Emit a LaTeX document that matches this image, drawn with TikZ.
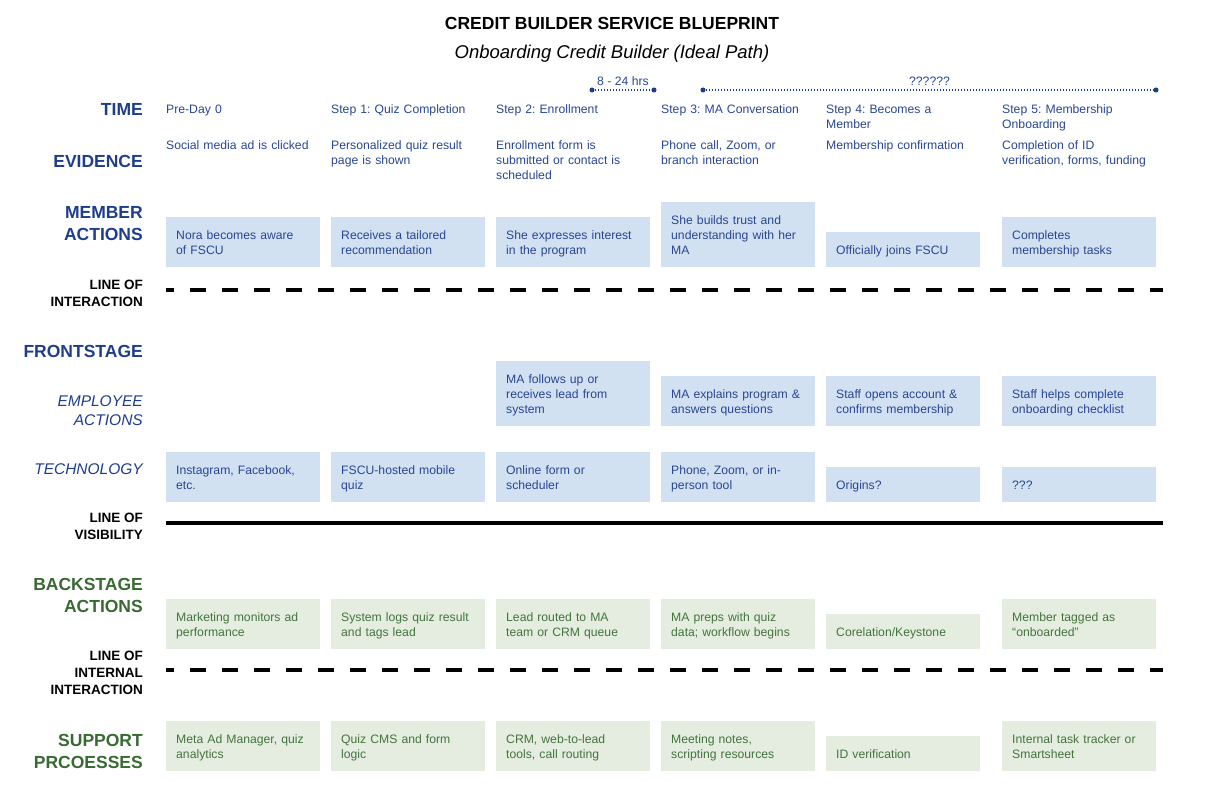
\documentclass[tikz,border=0pt]{standalone}
\usepackage{fontspec}
\setmainfont{Liberation Sans}
\usetikzlibrary{positioning}
\frenchspacing
\definecolor{bpblue}{RGB}{30,62,140}
\definecolor{bptext}{RGB}{40,70,146}
\definecolor{bpfill}{RGB}{210,225,242}
\definecolor{bpgreen}{RGB}{56,106,50}
\definecolor{bpgtext}{RGB}{68,116,62}
\definecolor{bpgfill}{RGB}{228,237,224}

\begin{document}
\begin{tikzpicture}[x=1pt, y=-1pt,
    lane/.style={anchor=east, align=right, inner sep=0pt, text=bpblue, font=\fontsize{17.5}{22}\selectfont\bfseries},
    subl/.style={anchor=east, align=right, inner sep=0pt, text=bpblue, font=\fontsize{15.5}{19.5}\selectfont\itshape},
    linel/.style={anchor=east, align=right, inner sep=0pt, text=black, font=\fontsize{13.5}{17}\selectfont\bfseries},
    stepl/.style={anchor=north west, align=left, inner sep=0pt, text width=152pt, text=bptext, font=\fontsize{12.2}{15}\selectfont, execute at begin node=\strut},
    card/.style={anchor=south west, align=left, inner xsep=10pt, inner ysep=10pt, text width=134pt, font=\fontsize{12.2}{15}\selectfont,
      execute at begin node=\rule{0pt}{12.5pt}, execute at end node=\rule[-2.5pt]{0pt}{2.5pt}},
    bcard/.style={card, fill=bpfill, text=bptext},
    gcard/.style={card, fill=bpgfill, text=bpgtext},
    tdot/.style={circle, fill=bpblue, inner sep=1.8pt},
    tspan/.style={bpblue, line width=1.5pt, dash pattern=on 1.5pt off 1.5pt},
    bpline/.style={line width=4pt}
  ]
  \useasboundingbox (0,0) rectangle (1224,792);

  % Title
  \node[font=\fontsize{17.5}{20}\selectfont\bfseries] (title) at (612,23) {CREDIT BUILDER SERVICE BLUEPRINT};
  \node[font=\fontsize{18.5}{22}\selectfont\itshape] (subtitle) at (612,54) {Onboarding Credit Builder (Ideal Path)};

  % Time spans
  \node[tdot] (ta) at (592,90) {};
  \node[tdot] (tb) at (654,90) {};
  \node[tdot] (tc) at (703,90) {};
  \node[tdot] (td) at (1156,90) {};
  \draw[tspan] (ta) -- (tb) node[midway, above=0.5pt, text=bptext, font=\fontsize{12.2}{14}\selectfont] {8 - 24 hrs};
  \draw[tspan] (tc) -- (td) node[pos=0.50, above=0.5pt, text=bptext, font=\fontsize{12.2}{14}\selectfont] {??????};

  % Lane labels
  \node[lane] (ltime) at (143,109) {TIME};
  \node[lane] (levid) at (143,161) {EVIDENCE};
  \node[lane] (lmem) at (143,224) {MEMBER\\ACTIONS};
  \node[linel] (lloi) at (143,293) {LINE OF\\INTERACTION};
  \node[lane] (lfront) at (143,351) {FRONTSTAGE};
  \node[subl] (lemp) at (143,410.5) {EMPLOYEE\\ACTIONS};
  \node[subl] (ltech) at (143,469) {TECHNOLOGY};
  \node[linel] (llov) at (143,526.5) {LINE OF\\VISIBILITY};
  \node[lane, text=bpgreen] (lback) at (143,595) {BACKSTAGE\\ACTIONS};
  \node[linel] (lloii) at (143,673) {LINE OF\\INTERNAL\\INTERACTION};
  \node[lane, text=bpgreen] (lsup) at (143,751) {SUPPORT\\PRCOESSES};

  % Steps
  \node[stepl] (st0) at (166,102.5) {Pre-Day 0};
  \node[stepl] (st1) at (331,102.5) {Step 1: Quiz Completion};
  \node[stepl] (st2) at (496,102.5) {Step 2: Enrollment};
  \node[stepl] (st3) at (661,102.5) {Step 3: MA Conversation};
  \node[stepl] (st4) at (826,102.5) {Step 4: Becomes a\\Member};
  \node[stepl] (st5) at (1002,102.5) {Step 5: Membership\\Onboarding};

  % Evidence
  \node[stepl] (ev0) at (166,138.5) {Social media ad is clicked};
  \node[stepl] (ev1) at (331,138.5) {Personalized quiz result\\page is shown};
  \node[stepl] (ev2) at (496,138.5) {Enrollment form is\\submitted or contact is\\scheduled};
  \node[stepl] (ev3) at (661,138.5) {Phone call, Zoom, or\\branch interaction};
  \node[stepl] (ev4) at (826,138.5) {Membership confirmation};
  \node[stepl] (ev5) at (1002,138.5) {Completion of ID\\verification, forms, funding};

  % Member actions
  \node[bcard] (ma0) at (166,267) {Nora becomes aware\\of FSCU};
  \node[bcard] (ma1) at (331,267) {Receives a tailored\\recommendation};
  \node[bcard] (ma2) at (496,267) {She expresses interest\\in the program};
  \node[bcard] (ma3) at (661,267) {She builds trust and\\understanding with her\\MA};
  \node[bcard] (ma4) at (826,267) {Officially joins FSCU};
  \node[bcard] (ma5) at (1002,267) {Completes\\membership tasks};

  % Line of interaction
  \coordinate (loiA) at (166,290);
  \coordinate (loiB) at (1163,290);
  \draw[bpline, dash pattern=on 16pt off 16pt, dash phase=8pt] (loiA) -- (loiB);

  % Employee actions
  \node[bcard] (ea2) at (496,426) {MA follows up or\\receives lead from\\system};
  \node[bcard] (ea3) at (661,426) {MA explains program \&\\answers questions};
  \node[bcard] (ea4) at (826,426) {Staff opens account \&\\confirms membership};
  \node[bcard] (ea5) at (1002,426) {Staff helps complete\\onboarding checklist};

  % Technology
  \node[bcard] (te0) at (166,502) {Instagram, Facebook,\\etc.};
  \node[bcard] (te1) at (331,502) {FSCU-hosted mobile\\quiz};
  \node[bcard] (te2) at (496,502) {Online form or\\scheduler};
  \node[bcard] (te3) at (661,502) {Phone, Zoom, or in-\\person tool};
  \node[bcard] (te4) at (826,502) {Origins?};
  \node[bcard] (te5) at (1002,502) {???};

  % Line of visibility
  \coordinate (lovA) at (166,523);
  \coordinate (lovB) at (1163,523);
  \draw[bpline] (lovA) -- (lovB);

  % Backstage actions
  \node[gcard] (ba0) at (166,649) {Marketing monitors ad\\performance};
  \node[gcard] (ba1) at (331,649) {System logs quiz result\\and tags lead};
  \node[gcard] (ba2) at (496,649) {Lead routed to MA\\team or CRM queue};
  \node[gcard] (ba3) at (661,649) {MA preps with quiz\\data; workflow begins};
  \node[gcard] (ba4) at (826,649) {Corelation/Keystone};
  \node[gcard] (ba5) at (1002,649) {Member tagged as\\“onboarded”};

  % Line of internal interaction
  \coordinate (loiiA) at (166,670);
  \coordinate (loiiB) at (1163,670);
  \draw[bpline, dash pattern=on 16pt off 16pt, dash phase=8pt] (loiiA) -- (loiiB);

  % Support processes
  \node[gcard] (sp0) at (166,771) {Meta Ad Manager, quiz\\analytics};
  \node[gcard] (sp1) at (331,771) {Quiz CMS and form\\logic};
  \node[gcard] (sp2) at (496,771) {CRM, web-to-lead\\tools, call routing};
  \node[gcard] (sp3) at (661,771) {Meeting notes,\\scripting resources};
  \node[gcard] (sp4) at (826,771) {ID verification};
  \node[gcard] (sp5) at (1002,771) {Internal task tracker or\\Smartsheet};
\end{tikzpicture}
\end{document}
